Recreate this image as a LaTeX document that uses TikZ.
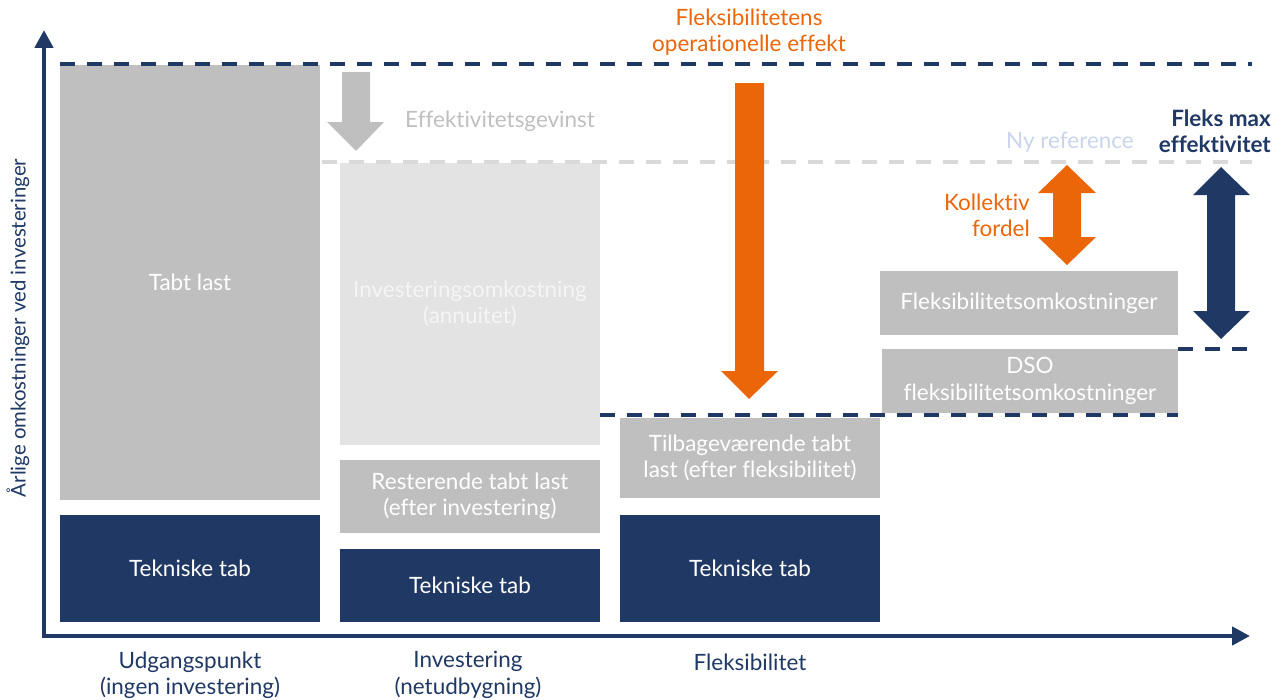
\documentclass[tikz,border=0pt]{standalone}
\usepackage{fontspec}
\setmainfont{Lato}[Ligatures=CommonOff]
\usetikzlibrary{arrows.meta}
\definecolor{navy}{HTML}{1F3864}
\definecolor{midgrey}{HTML}{BFBFBF}
\definecolor{lightgrey}{HTML}{E3E3E3}
\definecolor{dashgrey}{HTML}{D9D9D9}
\definecolor{orange}{HTML}{EB6608}
\definecolor{paleblue}{HTML}{C9D5EC}
\tikzset{
	box/.style={rectangle,inner sep=0pt,align=center,text=white,
		font=\fontsize{12.8}{15}\selectfont},
	lbl/.style={align=center,font=\fontsize{12.8}{15}\selectfont},
	refline/.style={line width=2.2pt,dash pattern=on 0.3cm off 0.24cm},
}
\begin{document}
\begin{tikzpicture}[x=0.02cm,y=-0.02cm]
	\useasboundingbox (0,0) rectangle (1282,700);

	% boxes
	\node[box,fill=midgrey,minimum width=5.2cm,minimum height=8.7cm] (tabt) at (190,282.5) {Tabt last};
	\node[box,fill=navy,minimum width=5.2cm,minimum height=2.14cm] (tek1) at (190,568.5) {Tekniske tab};
	\node[box,fill=lightgrey,text=white!96!black,minimum width=5.2cm,minimum height=5.64cm] (inv) at (470,304) {Investeringsomkostning\\(annuitet)};
	\node[box,fill=midgrey,minimum width=5.2cm,minimum height=1.46cm] (rest) at (470,496.5) {Resterende tabt last\\(efter investering)};
	\node[box,fill=navy,minimum width=5.2cm,minimum height=1.46cm] (tek2) at (470,585.5) {Tekniske tab};
	\node[box,fill=midgrey,minimum width=5.2cm,minimum height=1.62cm] (tilb) at (750,458) {Tilbagev\ae rende tabt\\last (efter fleksibilitet)};
	\node[box,fill=navy,minimum width=5.2cm,minimum height=2.14cm] (tek3) at (750,568.5) {Tekniske tab};
	\node[box,fill=midgrey,minimum width=5.96cm,minimum height=1.3cm] (fomk) at (1029,303) {Fleksibilitetsomkostninger};
	\node[box,fill=midgrey,minimum width=5.92cm,minimum height=1.28cm] (dso) at (1030,381) {DSO\\fleksibilitetsomkostninger};

	% reference lines
	\draw[refline,navy] (60,64) -- (1252,64);
	\draw[refline,dashgrey] (322,162) -- (1252,162);
	\draw[refline,navy] (600,415) -- (1178,415);
	\draw[refline,navy] (1178,349) -- (1248,349);

	% block arrows
	\fill[midgrey] (342,72) -- (370,72) -- (370,122) -- (384,122) -- (356,151) -- (327,122) -- (342,122) -- cycle;
	\fill[orange] (735,83) -- (764,83) -- (764,371) -- (778,371) -- (749,399) -- (721,371) -- (735,371) -- cycle;
	\fill[orange] (1067,165) -- (1096,193) -- (1081,193) -- (1081,237) -- (1096,237) -- (1067,265)
		-- (1038,237) -- (1053,237) -- (1053,193) -- (1038,193) -- cycle;
	\fill[navy] (1221,167) -- (1250,195) -- (1235,195) -- (1235,311) -- (1250,311) -- (1221,339)
		-- (1193,311) -- (1207,311) -- (1207,195) -- (1193,195) -- cycle;

	% axes
	\draw[navy,line width=2.8pt,{Triangle[length=0.36cm,width=0.36cm]}-{Triangle[length=0.36cm,width=0.36cm]}]
		(44,30) -- (44,636) -- (1250,636);
	\node[lbl,navy,rotate=90,font=\fontsize{11.6}{13}\selectfont] (ylab) at (18,328) {Årlige omkostninger ved investeringer};

	% texts
	\node[lbl,text=midgrey,anchor=west] (gevinst) at (399,121) {Effektivitetsgevinst};
	\node[lbl,text=orange] (opeff) at (749,32) {Fleksibilitetens\\operationelle effekt};
	\node[lbl,text=paleblue,anchor=east] (nyref) at (1140,142) {Ny reference};
	\node[lbl,text=navy,anchor=east,align=right,font=\bfseries\fontsize{12.8}{15}\selectfont] (maxeff) at (1277,131) {Fleks max\\effektivitet};
	\node[lbl,text=orange,anchor=east,align=right] (kollektiv) at (1036,215) {Kollektiv\\fordel};
	\node[lbl,text=navy] (udg) at (190,675) {Udgangspunkt\\(ingen investering)};
	\node[lbl,text=navy] (invest) at (468,675) {Investering\\(netudbygning)};
	\node[lbl,text=navy] (fleks) at (750,662) {Fleksibilitet};
\end{tikzpicture}
\end{document}
